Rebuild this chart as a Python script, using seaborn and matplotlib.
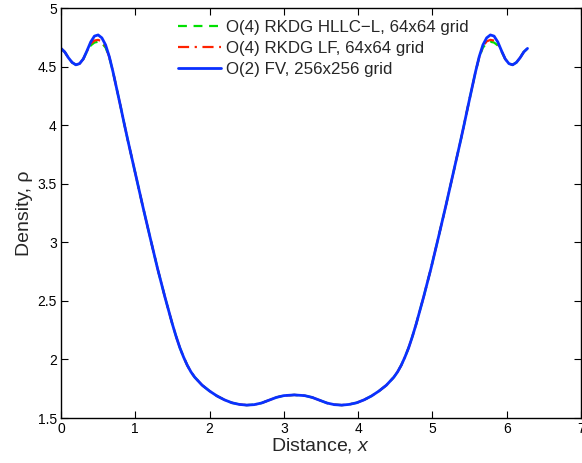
import matplotlib
matplotlib.use("Agg")
import matplotlib.pyplot as plt
import seaborn as sns
import pandas as pd

# ---- data ----
x_vals = [0.00, 0.05, 0.10, 0.15, 0.20, 0.25, 0.30, 0.35, 0.40, 0.45, 0.50, 0.55,
          0.60, 0.65, 0.70, 0.75, 0.80, 0.85, 0.90, 1.00, 1.10, 1.20, 1.30, 1.40,
          1.50, 1.55, 1.60, 1.65, 1.70, 1.75, 1.80, 1.90, 2.00, 2.10, 2.20, 2.30, 2.40,
          2.50, 2.60, 2.70, 2.80, 2.90, 3.00, 3.14,
          3.28, 3.38, 3.48, 3.58, 3.68, 3.78, 3.88, 3.98, 4.08, 4.18, 4.28, 4.38,
          4.48, 4.53, 4.58, 4.63, 4.68, 4.73, 4.78, 4.88, 4.98, 5.08, 5.18, 5.28, 5.38,
          5.43, 5.48, 5.53, 5.58, 5.63, 5.68, 5.73, 5.78, 5.83, 5.88, 5.93, 5.98,
          6.03, 6.08, 6.13, 6.18, 6.23, 6.28]

rho_fv = [4.655, 4.625, 4.575, 4.535, 4.515, 4.525, 4.565, 4.635, 4.710, 4.760, 4.770, 4.745,
          4.685, 4.585, 4.455, 4.310, 4.165, 4.015, 3.870, 3.590, 3.310, 3.040, 2.775, 2.530,
          2.300, 2.195, 2.100, 2.020, 1.950, 1.893, 1.848, 1.780, 1.730, 1.688, 1.655, 1.630, 1.616,
          1.610, 1.614, 1.628, 1.652, 1.676, 1.691, 1.697,
          1.691, 1.676, 1.652, 1.628, 1.614, 1.610, 1.616, 1.630, 1.655, 1.688, 1.730, 1.780,
          1.848, 1.893, 1.950, 2.020, 2.100, 2.195, 2.300, 2.530, 2.775, 3.040, 3.310, 3.590, 3.870,
          4.015, 4.165, 4.310, 4.455, 4.585, 4.685, 4.745, 4.770, 4.760, 4.710, 4.635, 4.565,
          4.525, 4.515, 4.535, 4.575, 4.625, 4.655]

rho_hllc = [4.655, 4.625, 4.575, 4.535, 4.515, 4.525, 4.565, 4.630, 4.680, 4.705, 4.712, 4.700,
            4.662, 4.580, 4.455, 4.310, 4.165, 4.015, 3.870, 3.590, 3.310, 3.040, 2.775, 2.530,
            2.300, 2.195, 2.100, 2.020, 1.950, 1.893, 1.848, 1.780, 1.730, 1.688, 1.655, 1.630, 1.616,
            1.610, 1.614, 1.628, 1.652, 1.676, 1.691, 1.697,
            1.691, 1.676, 1.652, 1.628, 1.614, 1.610, 1.616, 1.630, 1.655, 1.688, 1.730, 1.780,
            1.848, 1.893, 1.950, 2.020, 2.100, 2.195, 2.300, 2.530, 2.775, 3.040, 3.310, 3.590, 3.870,
            4.015, 4.165, 4.310, 4.455, 4.580, 4.662, 4.700, 4.712, 4.705, 4.680, 4.630, 4.565,
            4.525, 4.515, 4.535, 4.575, 4.625, 4.655]

rho_lf = [4.655, 4.625, 4.575, 4.535, 4.515, 4.525, 4.565, 4.632, 4.695, 4.722, 4.728, 4.715,
          4.672, 4.582, 4.455, 4.310, 4.165, 4.015, 3.870, 3.590, 3.310, 3.040, 2.775, 2.530,
          2.300, 2.195, 2.100, 2.020, 1.950, 1.893, 1.848, 1.780, 1.730, 1.688, 1.655, 1.630, 1.616,
          1.610, 1.614, 1.628, 1.652, 1.676, 1.691, 1.697,
          1.691, 1.676, 1.652, 1.628, 1.614, 1.610, 1.616, 1.630, 1.655, 1.688, 1.730, 1.780,
          1.848, 1.893, 1.950, 2.020, 2.100, 2.195, 2.300, 2.530, 2.775, 3.040, 3.310, 3.590, 3.870,
          4.015, 4.165, 4.310, 4.455, 4.582, 4.672, 4.715, 4.728, 4.722, 4.695, 4.632, 4.565,
          4.525, 4.515, 4.535, 4.575, 4.625, 4.655]

labels = ["O(4) RKDG HLLC\u2212L, 64x64 grid",
          "O(4) RKDG LF, 64x64 grid",
          "O(2) FV, 256x256 grid"]
x_ticks = [0, 1, 2, 3, 4, 5, 6, 7]
y_ticks = [1.5, 2, 2.5, 3, 3.5, 4, 4.5, 5]
x_tick_labels = ["0", "1", "2", "3", "4", "5", "6", "7"]
y_tick_labels = ["1.5", "2", "2.5", "3", "3.5", "4", "4.5", "5"]

sns.set_style("ticks")
plt.rcParams["font.family"] = ["Liberation Sans", "DejaVu Sans"]
plt.rcParams["mathtext.fontset"] = "custom"
plt.rcParams["mathtext.rm"] = "Liberation Sans"
plt.rcParams["mathtext.it"] = "Liberation Sans:italic"

fig = plt.figure(figsize=(5.82, 4.63), dpi=100)
ax = fig.add_axes([61 / 582, 45 / 463, 520 / 582, 410 / 463])

df_hllc = pd.DataFrame({"x": x_vals, "rho": rho_hllc})
df_lf = pd.DataFrame({"x": x_vals, "rho": rho_lf})
df_fv = pd.DataFrame({"x": x_vals, "rho": rho_fv})

sns.lineplot(data=df_hllc, x="x", y="rho", ax=ax, color="#00e000", lw=1.6,
             linestyle=(0, (4, 3)), label=labels[0], sort=False)
sns.lineplot(data=df_lf, x="x", y="rho", ax=ax, color="#ff2200", lw=1.6,
             linestyle=(0, (5, 2.5, 1, 2.5)), label=labels[1], sort=False)
sns.lineplot(data=df_fv, x="x", y="rho", ax=ax, color="#0a30ff", lw=2.0,
             linestyle="-", label=labels[2], sort=False)

ax.set_xlim(0, 7)
ax.set_ylim(1.5, 5)
ax.set_xticks(x_ticks)
ax.set_xticklabels(x_tick_labels)
ax.set_yticks(y_ticks)
ax.set_yticklabels(y_tick_labels)
ax.tick_params(direction="in", length=5, width=0.8, top=True, right=True,
               labelsize=10, colors="black", pad=3)
for s in ax.spines.values():
    s.set_linewidth(1.0)
    s.set_color("black")
    s.set_visible(True)

ax.set_xlabel("Distance, $x$", fontsize=14, labelpad=0)
ax.set_ylabel("Density, \u03c1", fontsize=14, labelpad=3)

leg = ax.legend(loc="upper left", bbox_to_anchor=(0.203, 1.0), frameon=False,
                fontsize=12.2, handlelength=2.5, handletextpad=0.3,
                labelspacing=0.36, borderaxespad=0.3)

fig.savefig("out.png", dpi=100)
